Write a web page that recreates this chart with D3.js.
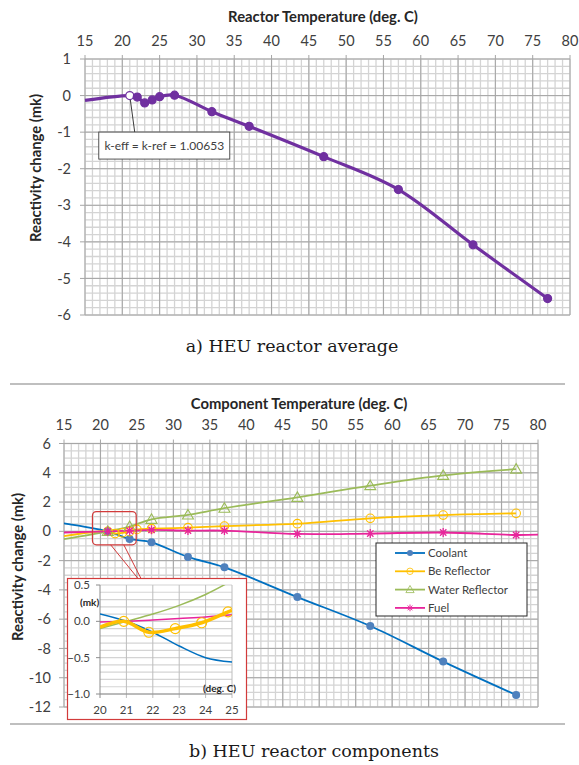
<!DOCTYPE html>
<html>
<head>
<meta charset="utf-8">
<script src="https://cdn.jsdelivr.net/npm/d3@7"></script>
<style>
  body { margin: 0; background: #fff; }
  svg { display: block; }
  .lbl { font-family: Lato, "Liberation Sans", sans-serif; fill: #404040; }
  .ttl { font-family: Lato, "Liberation Sans", sans-serif; font-weight: bold; fill: #262626; }
  .cap { font-family: "DejaVu Serif", serif; fill: #1a1a1a; }
</style>
</head>
<body>
<div id="chart"></div>
<script>
// ---- a) HEU reactor average ----
const avgTemps = [15, 21, 22, 23, 24, 25, 27, 32, 37, 47, 57, 67, 77];
const avgValues = [-0.13, 0, -0.04, -0.2, -0.12, -0.03, 0.01, -0.44, -0.84, -1.67, -2.57, -4.08, -5.55];
const avgRefTemp = 21;
const avgNote = "k-eff = k-ref = 1.00653";
const topXTicks = [15, 20, 25, 30, 35, 40, 45, 50, 55, 60, 65, 70, 75, 80];
const topYTicks = [1, 0, -1, -2, -3, -4, -5, -6];

// ---- b) HEU reactor components ----
const seriesNames = ["Coolant", "Be Reflector", "Water Reflector", "Fuel"];
const coolantTemps = [15, 21, 24, 27, 32, 37, 47, 57, 67, 77];
const coolantValues = [0.55, 0, -0.52, -0.75, -1.75, -2.46, -4.49, -6.47, -8.9, -11.18];
const beTemps = [15, 21, 22, 23, 24, 25, 27, 32, 37, 47, 57, 67, 77];
const beValues = [-0.32, 0, -0.15, -0.1, -0.02, 0.13, 0.18, 0.25, 0.36, 0.52, 0.89, 1.11, 1.23];
const waterTemps = [15, 21, 24, 27, 32, 37, 47, 57, 67, 77];
const waterValues = [-0.53, 0, 0.33, 0.82, 1.12, 1.58, 2.32, 3.12, 3.82, 4.25];
const fuelTemps = [15, 21, 24, 27, 32, 37, 47, 57, 67, 77, 80];
const fuelValues = [-0.08, 0, 0.04, 0.1, 0.05, 0.05, -0.18, -0.15, -0.08, -0.25, -0.22];
const botXTicks = [15, 20, 25, 30, 35, 40, 45, 50, 55, 60, 65, 70, 75, 80];
const botYTicks = [6, 4, 2, 0, -2, -4, -6, -8, -10, -12];

// inset (20-25 deg. C zoom)
const insetTemps = [20, 21, 22, 23, 24, 25];
const insetCoolant = [0.1, 0, -0.15, -0.34, -0.5, -0.56];
const insetWater = [-0.1, 0, 0.1, 0.22, 0.37, 0.56];
const insetFuel = [-0.01, 0, 0.02, 0.04, 0.06, 0.09];
const insetBeTemps = [20, 20.9, 21.85, 22.85, 23.85, 24.85, 25];
const insetBeValues = [-0.08, 0, -0.15, -0.1, -0.02, 0.13, 0.15];
const insetXTicks = [20, 21, 22, 23, 24, 25];
const insetYTicks = [0.5, 0.0, -0.5, -1.0];

const W = 579, H = 765;
const svg = d3.select("#chart").append("svg").attr("width", W).attr("height", H);

const colors = { coolant: "#0070C0", coolantMk: "#4F81BD", be: "#FFC000", water: "#9BBB59", fuel: "#E8259B", purple: "#7030A0" };
const majorGrid = "#a6a6a6", minorGrid = "#d4d4d4";

const zip = (t, v) => t.map((d, i) => [d, v[i]]);

function drawGrid(g, x, y, xMinor, yMinor, xMajor, yMajor) {
  const [x0, x1] = x.range(), [y1, y0] = y.range();
  g.selectAll(".vmin").data(xMinor).join("line")
    .attr("x1", d => x(d)).attr("x2", d => x(d)).attr("y1", y0).attr("y2", y1)
    .attr("stroke", minorGrid).attr("stroke-width", 1.3);
  g.selectAll(".hmin").data(yMinor).join("line").attr("class", "hmin")
    .attr("y1", d => y(d)).attr("y2", d => y(d)).attr("x1", x0).attr("x2", x1)
    .attr("stroke", minorGrid).attr("stroke-width", 1.3);
  g.selectAll(".vmaj").data(xMajor).join("line").attr("class", "vmaj")
    .attr("x1", d => x(d)).attr("x2", d => x(d)).attr("y1", y0 - 4).attr("y2", y1)
    .attr("stroke", majorGrid).attr("stroke-width", 1);
  g.selectAll(".hmaj").data(yMajor).join("line").attr("class", "hmaj")
    .attr("y1", d => y(d)).attr("y2", d => y(d)).attr("x1", x0 - 5).attr("x2", x1)
    .attr("stroke", majorGrid).attr("stroke-width", 1);
}

function axisLabels(g, x, y, xt, yt, xFmt, yFmt, size, xOff, yOff) {
  const [x0] = x.range(), [, y0] = y.range();
  g.selectAll(".xl").data(xt).join("text").attr("class", "lbl")
    .attr("x", d => x(d)).attr("y", y0 - xOff).attr("text-anchor", "middle")
    .attr("font-size", size).text(xFmt);
  g.selectAll(".yl").data(yt).join("text").attr("class", "lbl")
    .attr("x", x0 - yOff).attr("y", d => y(d)).attr("dy", "0.35em").attr("text-anchor", "end")
    .attr("font-size", size).text(yFmt);
}

const smooth = d3.line().curve(d3.curveCatmullRom.alpha(0.5));

// ================= top chart =================
const xT = d3.scaleLinear().domain([15, 80]).range([85, 570]);
const yT = d3.scaleLinear().domain([-6, 1]).range([315, 59]);
const gT = svg.append("g");
drawGrid(gT, xT, yT, d3.range(15, 81, 1), d3.range(-6, 1.001, 0.2), topXTicks, topYTicks);
axisLabels(gT, xT, yT, topXTicks, topYTicks, d => d, d => d, 14.5, 13, 14);

gT.append("text").attr("class", "ttl").attr("x", 323).attr("y", 22)
  .attr("text-anchor", "middle").attr("font-size", 14.8).text("Reactor Temperature (deg. C)");
gT.append("text").attr("class", "ttl").attr("font-size", 14.8).attr("text-anchor", "middle")
  .attr("transform", "translate(41,168) rotate(-90)").text("Reactivity change  (mk)");

const avgPts = zip(avgTemps, avgValues);
gT.append("path").attr("d", smooth(avgPts.map(d => [xT(d[0]), yT(d[1])])))
  .attr("fill", "none").attr("stroke", colors.purple).attr("stroke-width", 3.2);

// annotation leader + box
const refPt = [xT(avgRefTemp), yT(0)];
gT.append("line").attr("x1", refPt[0]).attr("y1", refPt[1]).attr("x2", refPt[0] + 5).attr("y2", refPt[1] + 37)
  .attr("stroke", "#262626").attr("stroke-width", 0.9);

gT.selectAll(".mk").data(avgPts.slice(1)).join("circle")
  .attr("cx", d => xT(d[0])).attr("cy", d => yT(d[1])).attr("r", 4)
  .attr("fill", d => d[0] === avgRefTemp ? "#fff" : colors.purple)
  .attr("stroke", colors.purple).attr("stroke-width", 1.2);

gT.append("rect").attr("x", refPt[0] - 31).attr("y", refPt[1] + 36.5).attr("width", 131).attr("height", 27)
  .attr("fill", "#fff").attr("stroke", "#404040").attr("stroke-width", 0.9);
gT.append("text").attr("class", "lbl").attr("x", refPt[0] + 34.5).attr("y", refPt[1] + 50)
  .attr("dy", "0.35em").attr("text-anchor", "middle").attr("font-size", 12).text(avgNote);

svg.append("text").attr("class", "cap").attr("x", 292).attr("y", 352).attr("text-anchor", "middle")
  .attr("font-size", 17.5).text("a) HEU reactor average");

svg.append("line").attr("x1", 10).attr("x2", 565).attr("y1", 384).attr("y2", 384)
  .attr("stroke", "#bfbfbf").attr("stroke-width", 2);

// ================= bottom chart =================
const xB = d3.scaleLinear().domain([15, 80]).range([64, 538]);
const yB = d3.scaleLinear().domain([-12, 6]).range([707, 443.5]);
const gB = svg.append("g");
drawGrid(gB, xB, yB, d3.range(15, 81, 1), d3.range(-12, 6.001, 0.5), botXTicks, botYTicks);
axisLabels(gB, xB, yB, botXTicks, botYTicks, d => d, d => d, 14.5, 14, 13);

gB.append("text").attr("class", "ttl").attr("x", 299).attr("y", 409)
  .attr("text-anchor", "middle").attr("font-size", 14.8).text("Component Temperature (deg. C)");
gB.append("text").attr("class", "ttl").attr("font-size", 14.8).attr("text-anchor", "middle")
  .attr("transform", "translate(23,567) rotate(-90)").text("Reactivity change  (mk)");

const series = [
  { name: seriesNames[0], pts: zip(coolantTemps, coolantValues), color: colors.coolant, mk: "dot" },
  { name: seriesNames[1], pts: zip(beTemps, beValues), color: colors.be, mk: "circle" },
  { name: seriesNames[2], pts: zip(waterTemps, waterValues), color: colors.water, mk: "tri" },
  { name: seriesNames[3], pts: zip(fuelTemps, fuelValues), color: colors.fuel, mk: "star" }
];

function marker(g, type, cx, cy, color) {
  if (type === "dot") {
    g.append("circle").attr("cx", cx).attr("cy", cy).attr("r", 4).attr("fill", colors.coolantMk);
  } else if (type === "circle") {
    g.append("circle").attr("cx", cx).attr("cy", cy).attr("r", 4.3)
      .attr("fill", "none").attr("stroke", color).attr("stroke-width", 1.1);
  } else if (type === "tri") {
    g.append("path").attr("d", `M${cx},${cy - 5.5}L${cx + 5.5},${cy + 4}L${cx - 5.5},${cy + 4}Z`)
      .attr("fill", "none").attr("stroke", color).attr("stroke-width", 1.1);
  } else {
    const r = 4.5;
    g.append("path").attr("d", [0, 90, 45, 135].map(a => {
      const rad = a * Math.PI / 180;
      return `M${cx - r * Math.cos(rad)},${cy - r * Math.sin(rad)}L${cx + r * Math.cos(rad)},${cy + r * Math.sin(rad)}`;
    }).join("")).attr("stroke", color).attr("stroke-width", 1.3);
  }
}

series.forEach(s => {
  gB.append("path").attr("d", smooth(s.pts.map(d => [xB(d[0]), yB(d[1])])))
    .attr("fill", "none").attr("stroke", s.color).attr("stroke-width", 1.8);
});
series.forEach(s => {
  s.pts.filter(d => d[0] > 15 && d[0] < 80).forEach(d => marker(gB, s.mk, xB(d[0]), yB(d[1]), s.color));
});

// zoom callout in main chart
const zoomBox = { t0: 18.9, t1: 24.9, v0: 1.35, v1: -0.92 };
gB.append("rect").attr("x", xB(zoomBox.t0)).attr("y", yB(zoomBox.v0))
  .attr("width", xB(zoomBox.t1) - xB(zoomBox.t0)).attr("height", yB(zoomBox.v1) - yB(zoomBox.v0))
  .attr("rx", 4).attr("fill", "none").attr("stroke", "#D23B3B").attr("stroke-width", 1.2);

// legend
const lg = gB.append("g");
lg.append("rect").attr("x", 376).attr("y", 543).attr("width", 151).attr("height", 73)
  .attr("fill", "#fff").attr("stroke", "#262626").attr("stroke-width", 1);
series.forEach((s, i) => {
  const ly = 553 + i * 18.3;
  lg.append("line").attr("x1", 395).attr("x2", 425).attr("y1", ly).attr("y2", ly)
    .attr("stroke", s.color).attr("stroke-width", 1.8);
  const mg = lg.append("g").attr("transform", "translate(410," + ly + ") scale(0.75) translate(-410," + (-ly) + ")");
  marker(mg, s.mk, 410, ly, s.color);
  lg.append("text").attr("class", "lbl").attr("x", 428).attr("y", ly).attr("dy", "0.35em")
    .attr("font-size", 11.5).text(s.name);
});

// ---- inset ----
const xI = d3.scaleLinear().domain([20, 25]).range([100, 232]);
const yI = d3.scaleLinear().domain([-1, 0.5]).range([694, 585]);
const gI = svg.append("g");
// callout pointer
gI.append("line").attr("x1", xB(21.4)).attr("y1", yB(zoomBox.v1)).attr("x2", 138).attr("y2", 578.5)
  .attr("stroke", "#D23B3B").attr("stroke-width", 1);
gI.append("line").attr("x1", xB(23.2)).attr("y1", yB(zoomBox.v1)).attr("x2", 141).attr("y2", 578.5)
  .attr("stroke", "#D23B3B").attr("stroke-width", 1);
gI.append("rect").attr("x", 67.5).attr("y", 578.5).attr("width", 179).attr("height", 141)
  .attr("fill", "#fff").attr("stroke", "#D23B3B").attr("stroke-width", 1.2);

gI.selectAll(".ih").data(d3.range(-1, 0.501, 0.1)).join("line")
  .attr("x1", xI(20)).attr("x2", xI(25)).attr("y1", d => yI(d)).attr("y2", d => yI(d))
  .attr("stroke", minorGrid).attr("stroke-width", 1.2);
gI.selectAll(".iv").data(insetXTicks.slice(1)).join("line")
  .attr("x1", d => xI(d)).attr("x2", d => xI(d)).attr("y1", yI(0.5)).attr("y2", yI(-1) + 4)
  .attr("stroke", "#bdbdbd").attr("stroke-width", 1);
gI.append("line").attr("x1", xI(20)).attr("x2", xI(20)).attr("y1", yI(0.5)).attr("y2", yI(-1) + 4)
  .attr("stroke", "#8c8c8c");
gI.selectAll(".it").data(insetYTicks).join("line")
  .attr("x1", xI(20) - 4).attr("x2", xI(20)).attr("y1", d => yI(d)).attr("y2", d => yI(d))
  .attr("stroke", "#8c8c8c");
gI.append("line").attr("x1", xI(20)).attr("x2", xI(25)).attr("y1", yI(-1)).attr("y2", yI(-1))
  .attr("stroke", "#8c8c8c");

gI.selectAll(".ixl").data(insetXTicks).join("text").attr("class", "lbl")
  .attr("x", d => xI(d)).attr("y", 714).attr("text-anchor", "middle").attr("font-size", 11.5).text(d => d);
gI.selectAll(".iyl").data(insetYTicks).join("text").attr("class", "lbl")
  .attr("x", 90).attr("y", d => yI(d)).attr("dy", "0.35em").attr("text-anchor", "end")
  .attr("font-size", 11.5).text(d3.format(".1f"));
gI.append("text").attr("class", "ttl").attr("x", 80).attr("y", 606).attr("font-size", 10).text("(mk)");
gI.append("text").attr("class", "ttl").attr("x", 236).attr("y", 692).attr("text-anchor", "end")
  .attr("font-size", 10).text("(deg. C)");

gI.append("clipPath").attr("id", "inclip").append("rect")
  .attr("x", xI(20)).attr("y", yI(0.5)).attr("width", xI(25) - xI(20)).attr("height", yI(-1) - yI(0.5));
const gIc = gI.append("g").attr("clip-path", "url(#inclip)");
const insetLines = [
  { v: insetWater, color: colors.water },
  { v: insetFuel, color: colors.fuel },
  { v: insetCoolant, color: colors.coolant }
];
insetLines.forEach(s => {
  gIc.append("path").attr("d", smooth(zip(insetTemps, s.v).map(d => [xI(d[0]), yI(d[1])])))
    .attr("fill", "none").attr("stroke", s.color).attr("stroke-width", 1.5);
});
const beIn = zip(insetBeTemps, insetBeValues);
gIc.append("path").attr("d", smooth(beIn.map(d => [xI(d[0]), yI(d[1])])))
  .attr("fill", "none").attr("stroke", colors.be).attr("stroke-width", 3.5);
beIn.slice(1, -1).forEach(d => {
  gIc.append("circle").attr("cx", xI(d[0])).attr("cy", yI(d[1])).attr("r", 5)
    .attr("fill", "none").attr("stroke", colors.be).attr("stroke-width", 1.1);
});

svg.append("line").attr("x1", 10).attr("x2", 565).attr("y1", 724).attr("y2", 724)
  .attr("stroke", "#bfbfbf").attr("stroke-width", 2);
svg.append("text").attr("class", "cap").attr("x", 314).attr("y", 757).attr("text-anchor", "middle")
  .attr("font-size", 17.5).text("b) HEU reactor components");
</script>
</body>
</html>
